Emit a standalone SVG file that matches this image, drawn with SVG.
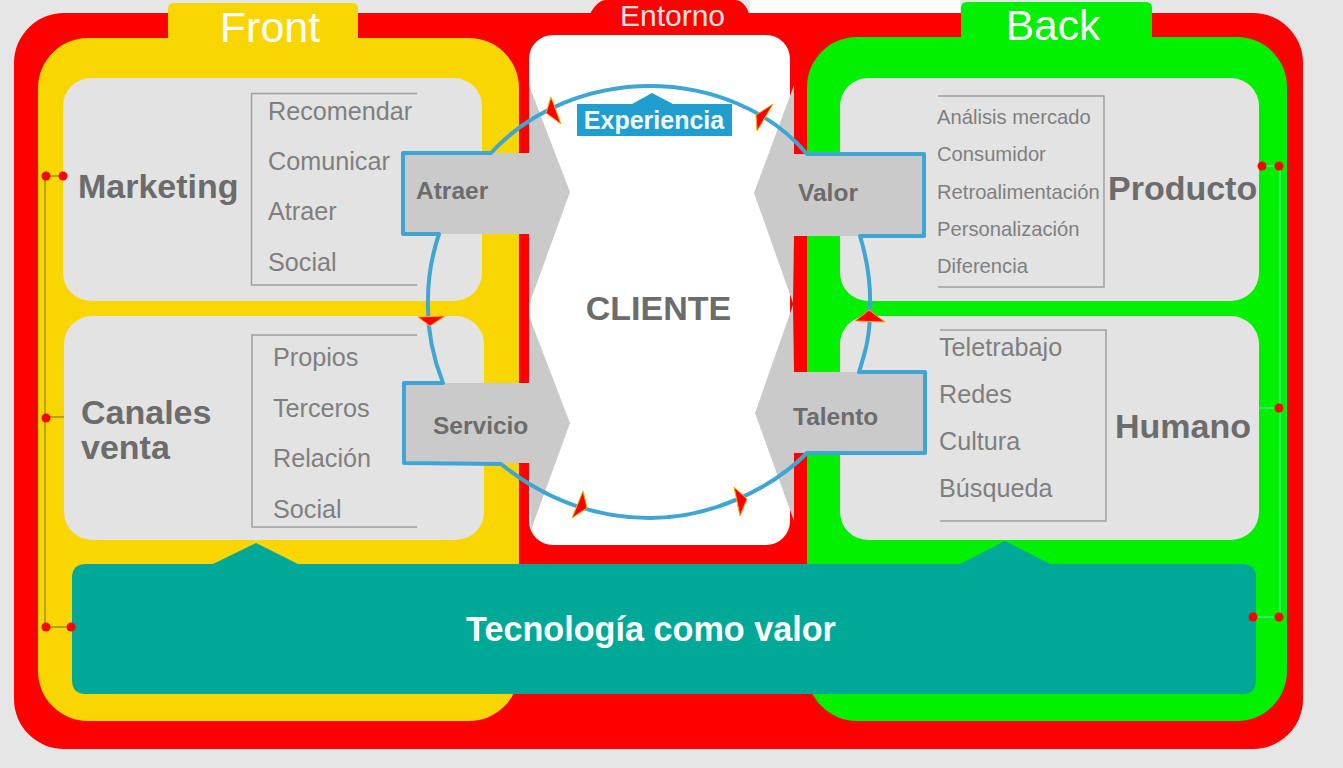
<svg xmlns="http://www.w3.org/2000/svg" width="1343" height="768" viewBox="0 0 1343 768">
<style>
text{font-family:"Liberation Sans",Arial,sans-serif}
.panel{fill:#e3e3e3}
.list{fill:none;stroke:#a0a0a0;stroke-width:1.5}
.item{fill:#7f7f7f;font-size:25.200px}
.item-s{fill:#7f7f7f;font-size:20.200px}
.head{fill:#6c6c6c;font-weight:700;font-size:34px}
.tag{fill:#6c6c6c;font-weight:700;font-size:24.500px}
.title{fill:#fff;font-size:43px}
.arrow{fill:#cacaca}
.tri{fill:#f00;stroke:#ffb000;stroke-width:1;stroke-linejoin:round}
.dot{fill:#f00}
.wl{fill:none;stroke:#b5a400;stroke-width:2}
.wr{fill:none;stroke:#40e890;stroke-width:1.5}
</style>
<rect width="1343" height="768" fill="#e6e6e6"/>
<rect x="750" y="0" width="210" height="14" fill="#fbfbfb"/>
<g id="entorno">
<rect x="14" y="13" width="1289" height="736" rx="50" fill="#f00"/>
<path d="M590,14 C594,6 600,0 606,0 L735,0 C741,0 747,6 749,14 Z" fill="#f00"/>
<text x="672.500" y="26" text-anchor="middle" font-size="30" fill="#fbe3e3">Entorno</text>
</g>
<g id="front">
<rect x="38" y="38" width="481" height="683" rx="50" fill="#fad600"/>
<path d="M168,39 L168,9 Q168,3 174,3 L352,3 Q358,3 358,9 L358,39 Z" fill="#fad600"/>
<text x="270" y="42" text-anchor="middle" class="title">Front</text>
</g>
<g id="back">
<rect x="807" y="37" width="480" height="684" rx="50" fill="#00f000"/>
<path d="M961,39 L961,8 Q961,2 967,2 L1146,2 Q1152,2 1152,8 L1152,39 Z" fill="#00f000"/>
<text x="1053" y="40" text-anchor="middle" class="title" style="font-size:42.500px">Back</text>
</g>
<g id="cliente">
<rect x="529" y="35" width="261" height="510" rx="24" fill="#fff"/>
</g>
<g id="marketing">
<rect x="63" y="78" width="419" height="223" rx="28" class="panel"/>
<text x="78" y="198" class="head">Marketing</text>
<path d="M417,93.500 L251.500,93.500 L251.500,285 L417,285" class="list"/>
<text x="268" y="120" class="item">Recomendar</text>
<text x="268" y="170" class="item">Comunicar</text>
<text x="268" y="220" class="item">Atraer</text>
<text x="268" y="271" class="item">Social</text>
</g>
<g id="canales">
<rect x="64" y="316" width="420" height="224" rx="28" class="panel"/>
<text x="81" y="424" class="head">Canales</text>
<text x="81" y="459" class="head">venta</text>
<path d="M417,335 L252,335 L252,527 L417,527" class="list"/>
<text x="273" y="366" class="item">Propios</text>
<text x="273" y="417" class="item">Terceros</text>
<text x="273" y="467" class="item">Relación</text>
<text x="273" y="518" class="item">Social</text>
</g>
<g id="producto">
<rect x="840" y="78" width="419" height="223" rx="28" class="panel"/>
<text x="1108" y="200" class="head">Producto</text>
<path d="M938,96 L1104,96 L1104,287 L938,287" class="list"/>
<text x="937" y="124" class="item-s">Análisis mercado</text>
<text x="937" y="161" class="item-s">Consumidor</text>
<text x="937" y="199" class="item-s">Retroalimentación</text>
<text x="937" y="236" class="item-s">Personalización</text>
<text x="937" y="273" class="item-s">Diferencia</text>
</g>
<g id="humano">
<rect x="840" y="316" width="419" height="224" rx="28" class="panel"/>
<text x="1115" y="438" class="head">Humano</text>
<path d="M940,330 L1106,330 L1106,521 L940,521" class="list"/>
<text x="939" y="356" class="item">Teletrabajo</text>
<text x="939" y="403" class="item">Redes</text>
<text x="939" y="450" class="item">Cultura</text>
<text x="939" y="497" class="item">Búsqueda</text>
</g>
<g id="tecnologia">
<path d="M86,564 L213,564 L256,543 L298,564 L960,564 L1005,541 L1050,564 L1242,564 Q1256,564 1256,578 L1256,680 Q1256,694 1242,694 L86,694 Q72,694 72,680 L72,578 Q72,564 86,564 Z" fill="#00a997"/>
<text x="651" y="641" text-anchor="middle" font-size="34.200" font-weight="700" fill="#fff">Tecnología como valor</text>
</g>
<g id="atraer">
<path d="M403,153 L529,153 L529,85 L570,192 L529,305 L529,234 L403,234 Z" class="arrow"/>
<text x="416" y="199" class="tag">Atraer</text>
</g>
<g id="servicio">
<path d="M404,383 L529,383 L529,316 L570,423 L531,530 L529,463 L404,463 Z" class="arrow"/>
<text x="433" y="434" class="tag">Servicio</text>
</g>
<g id="valor">
<path d="M924,154 L794,154 L794,85 L754,193 L793,303 L794,236 L924,236 Z" class="arrow"/>
<text x="798" y="201" class="tag">Valor</text>
</g>
<g id="talento">
<path d="M925,372 L794,372 L793,305 L755,413 L794,521 L794,453 L925,453 Z" class="arrow"/>
<text x="793" y="425" class="tag">Talento</text>
</g>
<g id="connectors">
<path d="M491,153 C530,110 590,86 650,86 C710,86 770,110 807,154 L924,154 L924,236 L860,236 C868,262 871,285 870,310 C870,335 866,350 859,372 L925,372 L925,453 L807,453 C770,490 710,518 650,518 C590,518 540,495 501,464 L404,463 L404,383 L443,383 C432,355 427,330 428,300 C428,275 432,255 439,234 L403,234 L403,153 Z" fill="none" stroke="#3fa6d4" stroke-width="4" stroke-linejoin="round"/>
<polygon class="tri" points="551,97 546,113 561,124"/>
<polygon class="tri" points="773,104 756,115 757,131"/>
<polygon class="tri" points="583,491 587,508 572,518"/>
<polygon class="tri" points="734,487 747,499 740,516"/>
<polygon class="tri" points="418,317 445,316 430,326"/>
<polygon class="tri" points="855,321 885,322 869,310"/>
<path class="wl" d="M63,176 L45,176 L45,627 L71,627 M45,417 L64,417"/>
<path class="wr" d="M1262,166 L1280,166 L1280,617 L1253,617 M1280,408 L1259,408"/>
<circle class="dot" cx="46" cy="176" r="4.500"/>
<circle class="dot" cx="63" cy="176" r="4.500"/>
<circle class="dot" cx="46" cy="418" r="4.500"/>
<circle class="dot" cx="46" cy="627" r="4.500"/>
<circle class="dot" cx="71" cy="627" r="4.500"/>
<circle class="dot" cx="1262" cy="166" r="4.500"/>
<circle class="dot" cx="1279" cy="166" r="4.500"/>
<circle class="dot" cx="1279" cy="408" r="4.500"/>
<circle class="dot" cx="1253" cy="617" r="4.500"/>
<circle class="dot" cx="1279" cy="617" r="4.500"/>
</g>
<g id="experiencia">
<path d="M577,104 L632,104 L652,93 L673,104 L732,104 L732,136 L577,136 Z" fill="#1f9fd0"/>
<text x="654" y="129" text-anchor="middle" font-size="25" font-weight="700" fill="#f4fbff">Experiencia</text>
</g>
<g id="cliente-label">
<text x="658.500" y="320" text-anchor="middle" font-size="34" font-weight="700" fill="#6c6c6c">CLIENTE</text>
</g>
</svg>
